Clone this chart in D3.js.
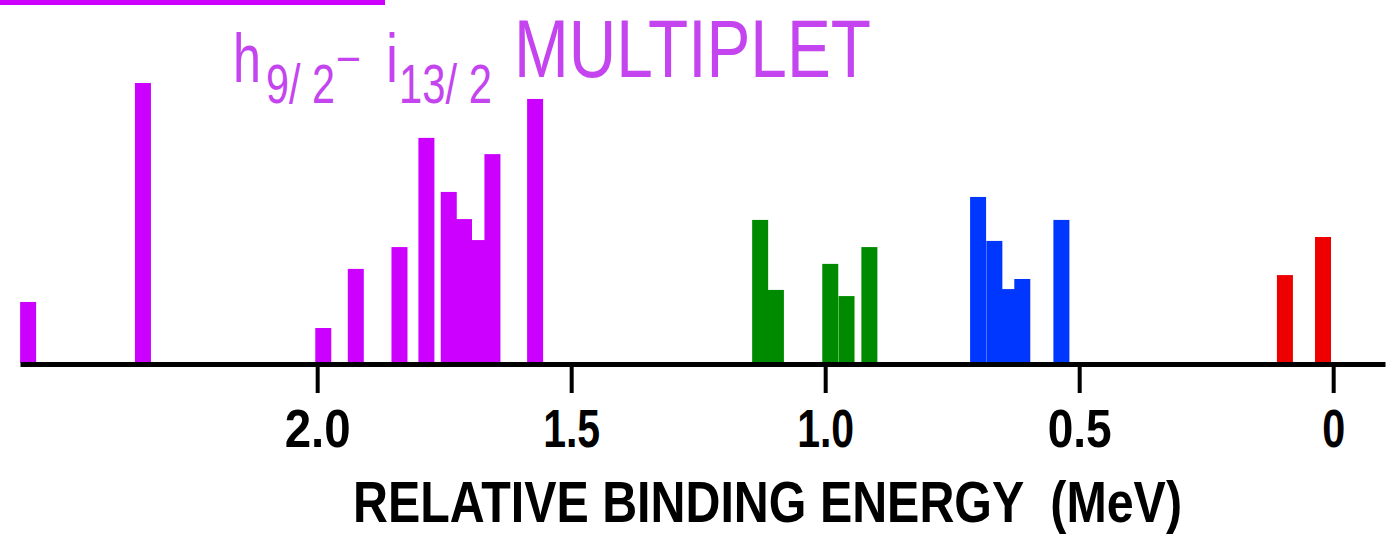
<!DOCTYPE html>
<html lang="en">
<head>
<meta charset="UTF-8">
<title>h9/2 - i13/2 multiplet</title>
<script src="https://cdn.jsdelivr.net/npm/d3@7/dist/d3.min.js"></script>
<style>
  body { margin: 0; background: #fff; }
  text { font-family: "Liberation Sans", Arial, sans-serif; }
</style>
</head>
<body>
<svg id="main" width="1394" height="535"></svg>
<script>
    // energies in MeV (relative binding energy), intensities in arbitrary units
    const purpleE = [2.569, 2.343, 1.988, 1.924, 1.838, 1.785, 1.741, 1.711, 1.682, 1.655, 1.571];
    const purpleI = [2.18, 10.0, 1.25, 3.36, 4.14, 8.04, 6.11, 5.14, 4.39, 7.46, 9.43];
    const greenE = [1.128, 1.097, 0.990, 0.958, 0.913];
    const greenI = [5.11, 2.61, 3.54, 2.39, 4.14];
    const blueE = [0.699, 0.667, 0.640, 0.612, 0.535];
    const blueI = [5.93, 4.36, 2.64, 3.00, 5.11];
    const redE = [0.095, 0.020];
    const redI = [3.14, 4.50];

    const tickValues = [2.0, 1.5, 1.0, 0.5, 0];
    const tickLabels = ["2.0", "1.5", "1.0", "0.5", "0"];
    const tickLabelWidths = [66, 57, 57, 64, 23];

    const groups = [
        {color: '#cc00ff', e: purpleE, v: purpleI},
        {color: '#008a00', e: greenE, v: greenI},
        {color: '#0037ff', e: blueE, v: blueI},
        {color: '#ee0000', e: redE, v: redI}
    ];

    let svg = d3.select('svg#main');

    const baseY = 363;
    const x = d3.scaleLinear().domain([2.585, -0.102]).range([20, 1385]);
    const y = d3.scaleLinear().domain([0, 10]).range([baseY, 83]);
    const barW = 16;

    // flatten, draw shorter bars first so taller neighbours sit on top
    let bars = [];
    groups.forEach(g => g.e.forEach((e, i) => bars.push({e: e, v: g.v[i], color: g.color})));
    bars.sort((a, b) => a.v - b.v);

    svg.selectAll('rect.bar')
        .data(bars)
        .enter()
        .append('rect')
        .attr('class', 'bar')
        .attr('x', d => x(d.e) - barW / 2)
        .attr('y', d => y(d.v))
        .attr('width', barW)
        .attr('height', d => baseY - y(d.v))
        .attr('fill', d => d.color);

    // axis
    let axis = d3.axisBottom(x)
        .tickValues(tickValues)
        .tickFormat((d, i) => tickLabels[i])
        .tickSizeInner(29)
        .tickSizeOuter(0)
        .tickPadding(17);

    let gx = svg.append('g')
        .attr('transform', `translate(0,${baseY + 1})`)
        .call(axis);
    gx.select('.domain').attr('stroke', '#000').attr('stroke-width', 5);
    gx.selectAll('.tick line').attr('stroke', '#000').attr('stroke-width', 4);
    gx.selectAll('.tick text')
        .attr('fill', '#000')
        .attr('font-size', 53)
        .attr('font-weight', 'bold')
        .attr('dy', null)
        .attr('y', 83)
        .attr('textLength', (d, i) => tickLabelWidths[i])
        .attr('lengthAdjust', 'spacingAndGlyphs')
        .attr('font-family', '"Liberation Sans", Arial, sans-serif');

    svg.append('text')
        .attr('x', 353).attr('y', 522)
        .attr('font-size', 58)
        .attr('font-weight', 'bold')
        .attr('textLength', 829)
        .attr('lengthAdjust', 'spacingAndGlyphs')
        .style('white-space', 'pre')
        .text('RELATIVE BINDING ENERGY  (MeV)');

    // title
    const tc = '#c445f0';
    svg.append('rect').attr('x', 0).attr('y', 0).attr('width', 385).attr('height', 5).attr('fill', '#cc00ff');

    // squeeze text horizontally to the wanted width (the lettering is condensed)
    function label(t, xx, yy, size, len) {
        let el = svg.append('text')
            .attr('font-size', size)
            .attr('fill', tc)
            .style('white-space', 'pre')
            .text(t);
        let w = el.node().getComputedTextLength();
        el.attr('transform', `translate(${xx},${yy}) scale(${len / w},1)`);
        return el;
    }
    label('h', 233, 82, 68, 28);
    label('9/ 2', 266, 103, 55, 69);
    label('\u2013', 338, 72, 50, 21);
    label('i', 386, 82, 68, 12);
    label('13/ 2', 399, 103, 55, 93);
    label('MULTIPLET', 514, 77, 82, 357);
</script>
</body>
</html>
